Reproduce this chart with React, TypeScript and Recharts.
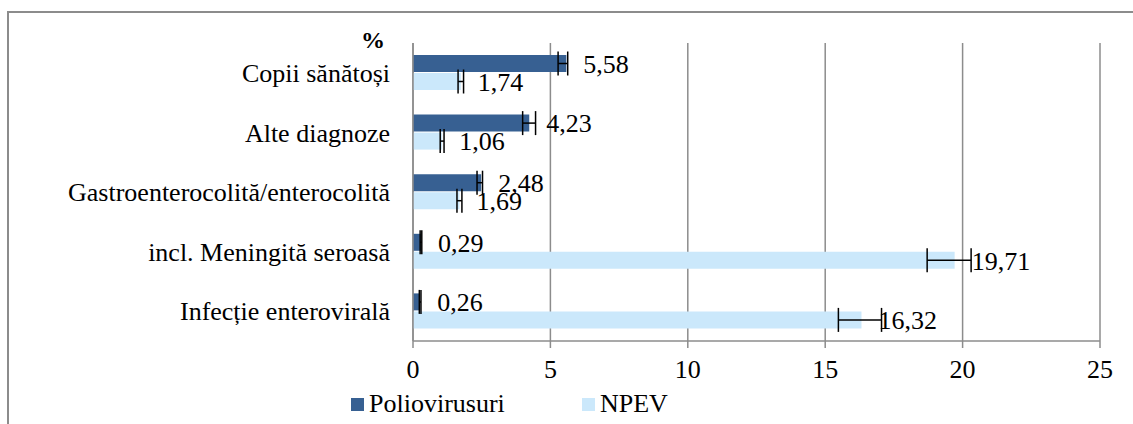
import React from 'react';
import {
  BarChart,
  Bar,
  XAxis,
  YAxis,
  CartesianGrid,
  ErrorBar,
  LabelList,
  Legend,
  Label,
} from 'recharts';

const categories = [
  'Copii sănătoși',
  'Alte diagnoze',
  'Gastroenterocolită/enterocolită',
  'incl. Meningită seroasă',
  'Infecție enterovirală',
];
const polioValues = [5.58, 4.23, 2.48, 0.29, 0.26];
const npevValues = [1.74, 1.06, 1.69, 19.71, 16.32];
const polioErrors: [number, number][] = [
  [0.3, 0.05],
  [0.24, 0.23],
  [0.15, 0.05],
  [0.03, 0.03],
  [0.03, 0.03],
];
const npevErrors: [number, number][] = [
  [0.1, 0.1],
  [0.07, 0.07],
  [0.09, 0.09],
  [1.0, 0.6],
  [0.84, 0.73],
];
const xTicks = [0, 5, 10, 15, 20, 25];
const boundaryTicks = [0, 1, 2, 3, 4, 5];
const seriesNames = ['Poliovirusuri', 'NPEV'];
const seriesColors = ['#376092', '#cbe8fb'];

const data = categories.map((c, i) => ({
  category: c,
  polio: polioValues[i],
  npev: npevValues[i],
  polioErr: polioErrors[i],
  npevErr: npevErrors[i],
}));

const FONT = 'Liberation Serif';
const GRAY = '#8c8c8c';
const FS = 26;

const fmt = (v: any) => String(v).replace('.', ',');

const LegendContent = () => (
  <div style={{ display: 'flex', fontFamily: FONT, fontSize: FS, color: '#000', lineHeight: '26px' }}>
    {seriesNames.map((n, i) => (
      <div key={n} style={{ display: 'flex', alignItems: 'center', width: i === 0 ? 231 : 100 }}>
        <span style={{ display: 'inline-block', width: 13, height: 13, background: seriesColors[i], marginRight: 5 }} />
        <span>{n}</span>
      </div>
    ))}
  </div>
);

export default function App() {
  return (
    <div style={{ position: 'absolute', left: 0, top: 0, width: 1133, height: 424, overflow: 'hidden', background: '#fff' }}>
      <div
        style={{
          position: 'absolute',
          left: 7,
          top: 11,
          width: 1200,
          height: 500,
          borderLeft: `2px solid ${GRAY}`,
          borderTop: `2px solid ${GRAY}`,
        }}
      />
      <div style={{ position: 'absolute', left: 0, top: 0 }}>
        <BarChart
          width={1133}
          height={424}
          data={data}
          layout="vertical"
          margin={{ top: 43, right: 33, left: 0, bottom: 53 }}
          barGap={1}
          barSize={17}
        >
          <CartesianGrid horizontal={false} vertical stroke={GRAY} strokeWidth={1.5} />
          <XAxis
            type="number"
            domain={[0, 25]}
            ticks={xTicks}
            height={30}
            stroke={GRAY}
            strokeWidth={1.5}
            tickSize={7}
            tickMargin={12}
            tick={{ fill: '#000', fontFamily: FONT, fontSize: FS }}
          />
          <YAxis
            yAxisId="bounds"
            type="number"
            domain={[0, 5]}
            ticks={boundaryTicks}
            width={8}
            reversed
            stroke={GRAY}
            strokeWidth={1.5}
            tickSize={8}
            tick={false}
          />
          <YAxis
            yAxisId="cat"
            type="category"
            dataKey="category"
            width={405}
            axisLine={false}
            tickLine={false}
            tickSize={0}
            tickMargin={15}
            interval={0}
            tick={{ fill: '#000', fontFamily: FONT, fontSize: FS }}
          >
            <Label
              content={(props: any) => {
                const vb = props.viewBox || { x: 0, y: 43, width: 405 };
                return (
                  <text
                    x={vb.x + vb.width - 20}
                    y={vb.y + 5}
                    textAnchor="end"
                    fontFamily={FONT}
                    fontSize={24}
                    fontWeight="bold"
                    fill="#000"
                  >
                    %
                  </text>
                );
              }}
            />
          </YAxis>
          <Legend
            layout="horizontal"
            verticalAlign="middle"
            align="center"
            content={<LegendContent />}
            wrapperStyle={{ top: 391, left: 351, width: 400, height: 26 }}
          />
          <Bar yAxisId="cat" dataKey="polio" name={seriesNames[0]} fill={seriesColors[0]} isAnimationActive={false}>
            <ErrorBar dataKey="polioErr" direction="x" width={12} stroke="#000" strokeWidth={1.5} />
            <LabelList
              dataKey="polio"
              position="right"
              offset={17}
              formatter={fmt}
              style={{ fill: '#000', fontFamily: FONT, fontSize: FS }}
            />
          </Bar>
          <Bar yAxisId="cat" dataKey="npev" name={seriesNames[1]} fill={seriesColors[1]} isAnimationActive={false}>
            <ErrorBar dataKey="npevErr" direction="x" width={12} stroke="#000" strokeWidth={1.5} />
            <LabelList
              dataKey="npev"
              position="right"
              offset={17}
              formatter={fmt}
              style={{ fill: '#000', fontFamily: FONT, fontSize: FS }}
            />
          </Bar>
        </BarChart>
      </div>
    </div>
  );
}
